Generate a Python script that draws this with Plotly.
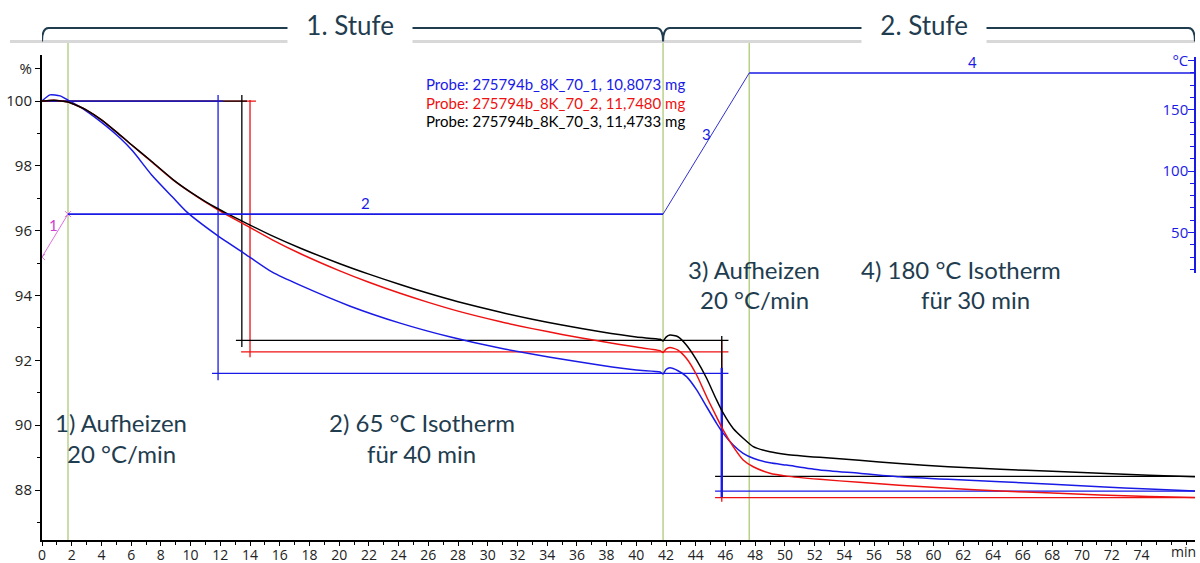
import plotly.graph_objects as go

# ---------------- data ----------------
t_black = [0, 0.5, 1.0, 1.75, 2.5, 3.0, 4.0, 5.0, 6.0, 7.27, 8.84, 10.0, 11.0, 11.76, 12.4, 13.8,
           15.5, 17.4, 20.0, 22.0, 24.1, 26.0, 28.0, 30.8, 33.0, 35.0, 37.6, 40.0, 41.6, 41.8,
           42.0, 42.26, 42.8, 43.38, 44.06, 44.73, 45.4, 45.85, 46.52, 47.19, 47.87, 48.99,
           50.11, 52.35, 55.0, 57.7, 61.0, 64.5, 68.0, 71.2, 74.5, 77.6]
m_black = [100.0, 100.02, 100.02, 99.97, 99.83, 99.72, 99.42, 99.05, 98.66, 98.18, 97.57, 97.19,
           96.90, 96.70, 96.54, 96.22, 95.84, 95.46, 94.99, 94.66, 94.34, 94.07, 93.81, 93.49,
           93.27, 93.09, 92.88, 92.72, 92.65, 92.6, 92.72, 92.78, 92.73, 92.47, 92.01, 91.45,
           90.78, 90.37, 89.9, 89.6, 89.34, 89.18, 89.10, 89.01, 88.92, 88.82, 88.72, 88.64,
           88.58, 88.52, 88.46, 88.41]

t_red = t_black
m_red = [100.0, 100.02, 100.02, 99.97, 99.83, 99.72, 99.42, 99.05, 98.66, 98.17, 97.56, 97.18,
         96.88, 96.67, 96.50, 96.15, 95.72, 95.29, 94.77, 94.41, 94.07, 93.79, 93.52, 93.20,
         92.98, 92.80, 92.59, 92.41, 92.30, 92.24, 92.35, 92.40, 92.32, 92.06, 91.55, 90.88,
         90.26, 89.85, 89.34, 88.93, 88.72, 88.52, 88.43, 88.33, 88.24, 88.15, 88.06, 87.97,
         87.91, 87.85, 87.8, 87.77]

t_blue = [0, 0.54, 1.21, 1.75, 2.56, 3.9, 5.25, 6.12, 7.38, 8.8, 9.74, 11.75, 13.77, 15.5, 17.36,
          20.7, 24.1, 27.5, 30.8, 34.2, 37.6, 40.0, 41.6, 41.8, 42.0, 42.26, 42.8, 43.38, 44.06,
          44.73, 45.4, 45.85, 46.52, 47.19, 47.87, 48.99, 50.11, 52.35, 55.0, 57.7, 61.0, 64.5,
          68.0, 71.2, 74.5, 77.6]
m_blue = [100.0, 100.19, 100.16, 100.03, 99.82, 99.38, 98.86, 98.45, 97.72, 97.03, 96.58, 95.87,
          95.25, 94.72, 94.32, 93.68, 93.15, 92.72, 92.38, 92.1, 91.85, 91.7, 91.64, 91.58, 91.72,
          91.77, 91.68, 91.50, 91.09, 90.57, 90.06, 89.75, 89.39, 89.13, 88.98, 88.84, 88.77,
          88.62, 88.52, 88.41, 88.33, 88.26, 88.18, 88.10, 88.03, 87.97]

# temperature program (segments 1-4)
temp_t = [0, 1.75, 41.8, 47.6, 77.6]
temp_T = [30, 65, 65, 180, 180]

# stage boundaries (min) and stage evaluation lines
stage_t = [0, 41.8, 77.6]
phase_t = [1.75, 41.8, 47.6]
step1_x = {"blue": 11.85, "black": 13.45, "red": 14.0}
step1_top = {"blue": 100.19, "black": 100.19, "red": 100.03}
step1_level = {"blue": 91.6, "black": 92.62, "red": 92.26}
step1_vbot = {"blue": 91.39, "black": 92.41, "red": 92.1}
step1_hstart = {"blue": 11.44, "black": 13.05, "red": 13.4}
step1_topend = {"blue": 12.2, "black": 13.8, "red": 14.4}
step2_x = 45.75
step2_vtop = {"blue": 91.77, "black": 92.75, "red": 92.6}
step2_vbot = {"blue": 87.78, "black": 88.22, "red": 87.64}
step2_level = {"blue": 87.97, "black": 88.42, "red": 87.77}
step2_hstart = 45.3
step_end = 46.2

legend_text = ["Probe: 275794b_8K_70_1, 10,8073 mg",
               "Probe: 275794b_8K_70_2, 11,7480 mg",
               "Probe: 275794b_8K_70_3, 11,4733 mg"]

x_ticks = list(range(0, 76, 2))
y_ticks = [88, 90, 92, 94, 96, 98, 100, 101]
y_ticktext = ["88", "90", "92", "94", "96", "98", "100", "%"]
y2_ticks = [50, 100, 150, 190]
y2_ticktext = ["50", "100", "150", "°C"]

# ---------------- styling ----------------
COL = {"blue": "#1a1ae6", "red": "#ee1111", "black": "#000000"}
TEAL = "#1f3d4f"
GREEN = "#b9d08a"
W, H = 1200, 563
L, R, T, B = 42, 5, 55, 23
PW, PH = W - L - R, H - T - B


def px(x):
    return (x - L) / PW


def py(y):
    return (H - B - y) / PH


fig = go.Figure()

# stage evaluation lines
for s in ["red", "black", "blue"]:
    c = COL[s]
    segs = [
        ([0, step1_topend[s]], [100, 100]),
        ([step1_x[s], step1_x[s]], [step1_top[s], step1_vbot[s]]),
        ([step1_hstart[s], step_end], [step1_level[s], step1_level[s]]),
        ([step2_x, step2_x], [step2_vtop[s], step2_vbot[s]]),
        ([step2_hstart, stage_t[2]], [step2_level[s], step2_level[s]]),
    ]
    for i, (xs, ys) in enumerate(segs):
        fig.add_trace(go.Scatter(x=xs, y=ys, mode="lines",
                                 line=dict(color=c, width=(2.4 if (i == 3 and s == "blue") else 1.3)),
                                 hoverinfo="skip", showlegend=False))

# TG curves
for s, tt, mm in [("blue", t_blue, m_blue), ("red", t_red, m_red), ("black", t_black, m_black)]:
    fig.add_trace(go.Scatter(x=tt, y=mm, mode="lines",
                             line=dict(color=COL[s], width=1.5, shape="spline", smoothing=0.6),
                             showlegend=False, name=s))

# temperature program on secondary axis
fig.add_trace(go.Scatter(x=temp_t[0:2], y=temp_T[0:2], mode="lines+markers",
                         line=dict(color="#e070e0", width=1),
                         marker=dict(symbol="x-thin", size=6, line=dict(color="#e070e0", width=1)),
                         yaxis="y2", showlegend=False))
fig.add_trace(go.Scatter(x=temp_t[1:3], y=temp_T[1:3], mode="lines",
                         line=dict(color="#1a1ae6", width=1.6), yaxis="y2", showlegend=False))
fig.add_trace(go.Scatter(x=temp_t[2:4], y=temp_T[2:4], mode="lines",
                         line=dict(color="#3030d0", width=1), yaxis="y2", showlegend=False))
fig.add_trace(go.Scatter(x=temp_t[3:5], y=temp_T[3:5], mode="lines",
                         line=dict(color="#1a1ae6", width=1.6), yaxis="y2", showlegend=False))

shapes = []
# phase separators (green)
for tp in phase_t:
    shapes.append(dict(type="line", xref="x", yref="paper", x0=tp, x1=tp, y0=0, y1=py(42),
                       line=dict(color=GREEN, width=1.5), layer="below"))
# grey top line
shapes.append(dict(type="line", xref="paper", yref="paper", x0=px(10), x1=1.0, y0=py(41.5), y1=py(41.5),
                   line=dict(color="#d8d8d8", width=3)))
# brackets
yb, yt = py(41.5), py(28)
a, m, e = stage_t
r = 0.45
path = (f"M {a},{yb} Q {a},{yt} {a + r},{yt} L {m - r},{yt} Q {m},{yt} {m},{yb} "
        f"Q {m},{yt} {m + r},{yt} L {e - r},{yt} Q {e},{yt} {e},{yb}")
shapes.append(dict(type="path", xref="x", yref="paper", path=path, line=dict(color=TEAL, width=2)))

ann = []
for txt, cx in [("  1. Stufe  ", 350), ("  2. Stufe  ", 924)]:
    ann.append(dict(text=txt, x=px(cx), y=py(25), xref="paper", yref="paper", showarrow=False,
                    xanchor="center", yanchor="middle",
                    font=dict(family="Lato", size=26, color=TEAL), bgcolor="white", borderpad=5))

for txt, cx, cy in [("1) Aufheizen", 121, 422), ("20 °C/min", 121, 453),
                    ("2) 65 °C Isotherm", 422, 422), ("für 40 min", 421, 453),
                    ("3) Aufheizen", 754, 269), ("20 °C/min", 754, 299),
                    ("4) 180 °C Isotherm", 961, 269), ("für 30 min", 975, 299)]:
    ann.append(dict(text=txt, x=px(cx), y=py(cy), xref="paper", yref="paper", showarrow=False,
                    font=dict(family="Lato", size=24, color=TEAL), xanchor="center", yanchor="middle"))

for txt, col, yy in zip(legend_text, [COL["blue"], COL["red"], COL["black"]], [84, 103, 121]):
    ann.append(dict(text=txt, x=px(424), y=py(yy), xref="paper", yref="paper", showarrow=False,
                    font=dict(family="Lato", size=15, color=col), xanchor="left", yanchor="middle"))

# segment numbers
for txt, tx, ty, col in [("1", 0.74, 56, "#d040d0"), ("2", 21.8, 74, "#1a1ae6"),
                         ("3", 44.7, 130, "#1a1ae6"), ("4", 62.6, 189, "#1a1ae6")]:
    ann.append(dict(text=txt, x=tx, y=ty, xref="x", yref="y2", showarrow=False,
                    font=dict(family="Lato", size=15, color=col)))

ann.append(dict(text="min", x=px(1183), y=py(551), xref="paper", yref="paper", showarrow=False,
                font=dict(family="Open Sans", size=14, color="#222"), xanchor="center", yanchor="middle"))

fig.update_layout(
    width=W, height=H, margin=dict(l=L, r=R, t=T, b=B, autoexpand=False),
    paper_bgcolor="white", plot_bgcolor="rgba(0,0,0,0)",
    showlegend=False, shapes=shapes, annotations=ann,
    xaxis=dict(range=[0, 77.6], showgrid=False, zeroline=False, showline=True,
               linecolor="black", linewidth=1.5, ticks="outside", ticklen=4, tickcolor="black",
               tickvals=x_ticks, ticktext=[str(v) for v in x_ticks],
               ticklabelstandoff=-3,
               tickfont=dict(family="Open Sans", size=14, color="#222"),
               minor=dict(dtick=1, ticks="outside", ticklen=3, tickcolor="black"),
               anchor="y"),
    yaxis=dict(range=[86.46, 101.42], domain=[0, 1], showgrid=False, zeroline=False, showline=True,
               linecolor="black", linewidth=2, ticks="outside", ticklen=5, tickcolor="black",
               tickvals=y_ticks, ticktext=y_ticktext,
               tickfont=dict(family="Open Sans", size=15, color="#222"),
               minor=dict(tickvals=[87, 89, 91, 93, 95, 97, 99], ticks="outside", ticklen=3,
                          tickcolor="black")),
    yaxis2=dict(range=[17, 193], domain=[py(273), py(57)], anchor="free", position=1, side="right",
                showgrid=False, zeroline=False, showline=True, linecolor="#1a1ae6", linewidth=1.5,
                ticks="inside", ticklen=6, tickcolor="#1a1ae6", ticklabelposition="inside",
                ticklabeloverflow="allow",
                tickvals=y2_ticks, ticktext=y2_ticktext,
                tickfont=dict(family="Open Sans", size=15, color="#1a1ae6"),
                minor=dict(dtick=10, tick0=0, ticks="inside", ticklen=4, tickcolor="#1a1ae6")),
)

fig.write_html("out.html")
